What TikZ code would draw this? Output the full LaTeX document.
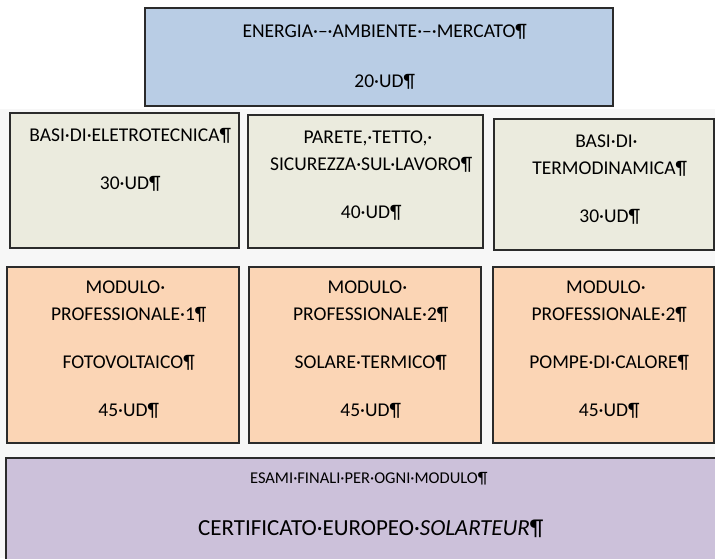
\documentclass[tikz,border=0pt]{standalone}
\usepackage{fontspec}
\setmainfont{Carlito}
\usetikzlibrary{positioning}

\definecolor{bluebox}{HTML}{B9CDE5}
\definecolor{greenbox}{HTML}{EBEBDE}
\definecolor{orangebox}{HTML}{FBD5B5}
\definecolor{purplebox}{HTML}{CCC1DA}
\definecolor{edgecol}{HTML}{2B2B2B}
\definecolor{backcol}{HTML}{F7F7F7}

\newcommand{\pil}{\rlap{¶}}
\newcommand{\trail}{\rlap{·}}

\tikzset{
    box/.style={draw=edgecol, line width=1.4pt, inner sep=0pt},
    txt/.style={inner sep=0pt, align=center, font=\fontsize{19.5}{27}\selectfont},
}

\begin{document}
\begin{tikzpicture}[x=1pt,y=-1pt]
    \useasboundingbox (0,0) rectangle (715,558);
    \clip (0,0) rectangle (715,558);
    \fill[backcol] (0,109) rectangle (715,558);

    % top module
    \node[box, fill=bluebox, minimum width=468pt, minimum height=98pt] (ambiente) at (379,57) {};
    \node[txt, below=17pt of ambiente.north] (ambientetxt)
        {ENERGIA·–·AMBIENTE·–·MERCATO\pil\\[23pt]20·UD\pil};

    % basic modules
    \node[box, fill=greenbox, minimum width=229pt, minimum height=135pt] (elettro) at (124.5,180.5) {};
    \node[txt, below=16pt of elettro.north] (elettrotxt)
        {BASI·DI·ELETROTECNICA\pil\\[21pt]30·UD\pil};
    \node[box, fill=greenbox, minimum width=235pt, minimum height=133pt] (parete) at (365.5,181.5) {};
    \node[txt, below=16pt of parete.north] (paretetxt)
        {PARETE,·TETTO,\trail\\SICUREZZA·SUL·LAVORO\pil\\[21pt]40·UD\pil};
    \node[box, fill=greenbox, minimum width=220pt, minimum height=131pt] (termo) at (604,184.5) {};
    \node[txt, below=16.5pt of termo.north] (termotxt)
        {BASI·DI\trail\\TERMODINAMICA\pil\\[21pt]30·UD\pil};

    % professional modules
    \node[box, fill=orangebox, minimum width=232pt, minimum height=176pt] (foto) at (123,355) {};
    \node[txt, below=14pt of foto.north] (fototxt)
        {MODULO\trail\\PROFESSIONALE·1\pil\\[21pt]FOTOVOLTAICO\pil\\[21pt]45·UD\pil};
    \node[box, fill=orangebox, minimum width=232pt, minimum height=176pt] (solare) at (365,355) {};
    \node[txt, below=14pt of solare.north] (solaretxt)
        {MODULO\trail\\PROFESSIONALE·2\pil\\[21pt]SOLARE·TERMICO\pil\\[21pt]45·UD\pil};
    \node[box, fill=orangebox, minimum width=221pt, minimum height=176pt] (pompe) at (603.5,355) {};
    \node[txt, below=14pt of pompe.north] (pompetxt)
        {MODULO\trail\\PROFESSIONALE·2\pil\\[21pt]POMPE·DI·CALORE\pil\\[21pt]45·UD\pil};

    % final exams
    \node[box, fill=purplebox, minimum width=716pt, minimum height=107pt] (esami) at (364,511.5) {};
    \node[inner sep=0pt, font=\fontsize{16.5}{19}\selectfont, below=15pt of esami.north] (esamitxt)
        {ESAMI·FINALI·PER·OGNI·MODULO\pil};
    \node[inner sep=0pt, font=\fontsize{23}{27}\selectfont, below=47pt of esamitxt.north] (certtxt)
        {CERTIFICATO·EUROPEO·\textit{SOLARTEUR}\pil};
\end{tikzpicture}
\end{document}
